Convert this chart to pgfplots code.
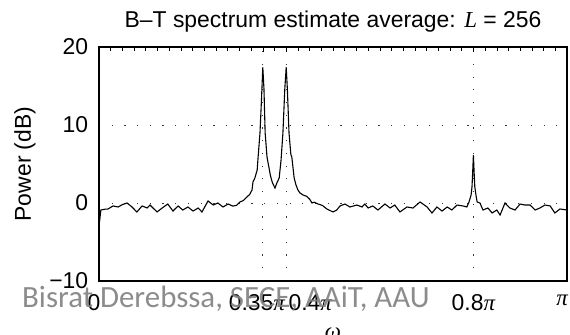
\documentclass[border=0pt]{standalone}
\usepackage{fontspec}
\setmainfont{Liberation Sans}
\newfontfamily\wmfont{Carlito}
\newfontfamily\serifit[ItalicFont={Liberation Serif Italic}]{Liberation Serif}
\newcommand{\ip}{{\serifit\itshape π}}
\usepackage{pgfplots}
\pgfplotsset{compat=1.18}
\pgfplotstableread{
x y
0.000 -3.0
0.004 -0.9
0.012 -0.8
0.019 -0.77
0.030 -0.38
0.041 -0.51
0.050 -0.20
0.060 0.00
0.0705 -0.51
0.081 -1.15
0.092 -0.38
0.103 -0.64
0.109 -0.26
0.124 -1.15
0.135 -0.64
0.147 -0.13
0.158 -1.03
0.169 -0.38
0.179 -0.90
0.190 -0.51
0.201 -1.03
0.212 -0.64
0.220 -1.15
0.233 0.26
0.244 -0.26
0.254 0.00
0.265 -0.51
0.276 -0.13
0.286 -0.40
0.294 -0.30
0.301 0.13
0.308 0.30
0.316 0.77
0.322 1.10
0.327 1.67
0.329 2.69
0.333 3.20
0.338 4.23
0.340 5.90
0.344 9.00
0.347 13.0
0.350 17.4
0.3525 14.6
0.355 9.00
0.359 5.90
0.363 4.60
0.366 3.60
0.370 2.69
0.373 2.30
0.376 1.92
0.380 2.56
0.385 3.20
0.389 5.50
0.393 9.00
0.397 14.6
0.400 17.4
0.4025 14.6
0.406 9.00
0.410 6.20
0.412 5.90
0.417 3.20
0.421 2.30
0.425 1.67
0.4295 1.28
0.436 1.03
0.444 0.85
0.450 0.50
0.4551 0.00
0.460 0.10
0.468 -0.13
0.477 -0.30
0.487 -0.77
0.500 -1.15
0.508 -0.90
0.515 -0.38
0.5256 -0.13
0.536 -0.51
0.551 -0.26
0.562 -0.51
0.568 -0.13
0.575 -0.64
0.585 -0.38
0.596 -0.90
0.611 -0.13
0.622 -0.64
0.632 -0.26
0.643 -1.15
0.658 -0.51
0.671 -0.64
0.686 0.13
0.701 -0.51
0.7115 -1.28
0.722 -0.51
0.733 -1.03
0.744 -0.51
0.754 -0.90
0.765 -0.26
0.778 -0.38
0.786 -0.51
0.7906 0.13
0.795 1.00
0.797 2.05
0.7985 4.00
0.800 6.15
0.8015 4.00
0.803 2.05
0.806 0.80
0.808 0.13
0.814 0.00
0.8205 -0.90
0.831 -0.64
0.840 -1.28
0.850 -0.90
0.857 -1.54
0.8675 0.00
0.878 -0.64
0.889 -0.90
0.8996 -0.13
0.910 -0.26
0.921 -0.26
0.932 -0.90
0.942 -0.64
0.953 -0.26
0.964 -0.38
0.974 -1.28
0.985 -0.77
1.000 -0.90
}\spectrum
\begin{document}
\fontsize{23}{27}\selectfont
\begin{tikzpicture}
\begin{axis}[
  name=ax,
  scale only axis,
  width=468bp, height=234bp,
  xmin=0, xmax=1, ymin=-10, ymax=20,
  xtick={0,0.35,0.4,0.8,1},
  xticklabels={0\kern10bp,0.35\ip\kern12bp,\kern48bp 0.4\ip,0.8\ip,\ip\kern10bp},
  minor xtick={0,0.025,...,1},
  ytick={-10,0,10,20},
  yticklabels={−10,0,10,20},
  xtick pos=right, xticklabel pos=left,
  ytick style={draw=none},
  tick align=inside,
  major tick length=5bp, minor tick length=4bp,
  tick style={black, line width=0.6bp},
  xmajorgrids, ymajorgrids,
  grid style={black!80, dash pattern=on 1.2bp off 11.5bp, line width=0.8bp},
  axis line style={line width=1.3bp},
  tick label style={font=\fontsize{23}{27}\selectfont},
  xticklabel style={yshift=-6bp},
  yticklabel style={xshift=-3bp},
  title={B–T spectrum estimate average: {\serifit\itshape L} = 256},
  title style={font=\fontsize{23}{27}\selectfont, at={(axis description cs:0.5,1)}, anchor=base, yshift=14bp},
  ylabel={Power (dB)},
  ylabel style={font=\fontsize{23}{27}\selectfont, at={(axis description cs:-0.158,0.5)}, anchor=center},
  xlabel={\serifit\itshape ω},
  xlabel style={font=\fontsize{23}{27}\selectfont, at={(axis description cs:0.5,0)}, anchor=base, yshift=-57bp},
]
\addplot[black, line width=1.1bp] table[x=x,y=y]{\spectrum};
\end{axis}
\node[anchor=base west, text=black!50, text opacity=0.9, inner sep=0pt, font=\wmfont\fontsize{31}{36}\selectfont]
  at ([xshift=-77bp,yshift=-26bp]ax.south west) {Bisrat Derebssa, SECE, AAiT, AAU};
\pgfresetboundingbox
\path ([xshift=-99bp,yshift=-54bp]ax.south west) rectangle ([xshift=3bp,yshift=47bp]ax.north east);
\end{tikzpicture}
\end{document}
